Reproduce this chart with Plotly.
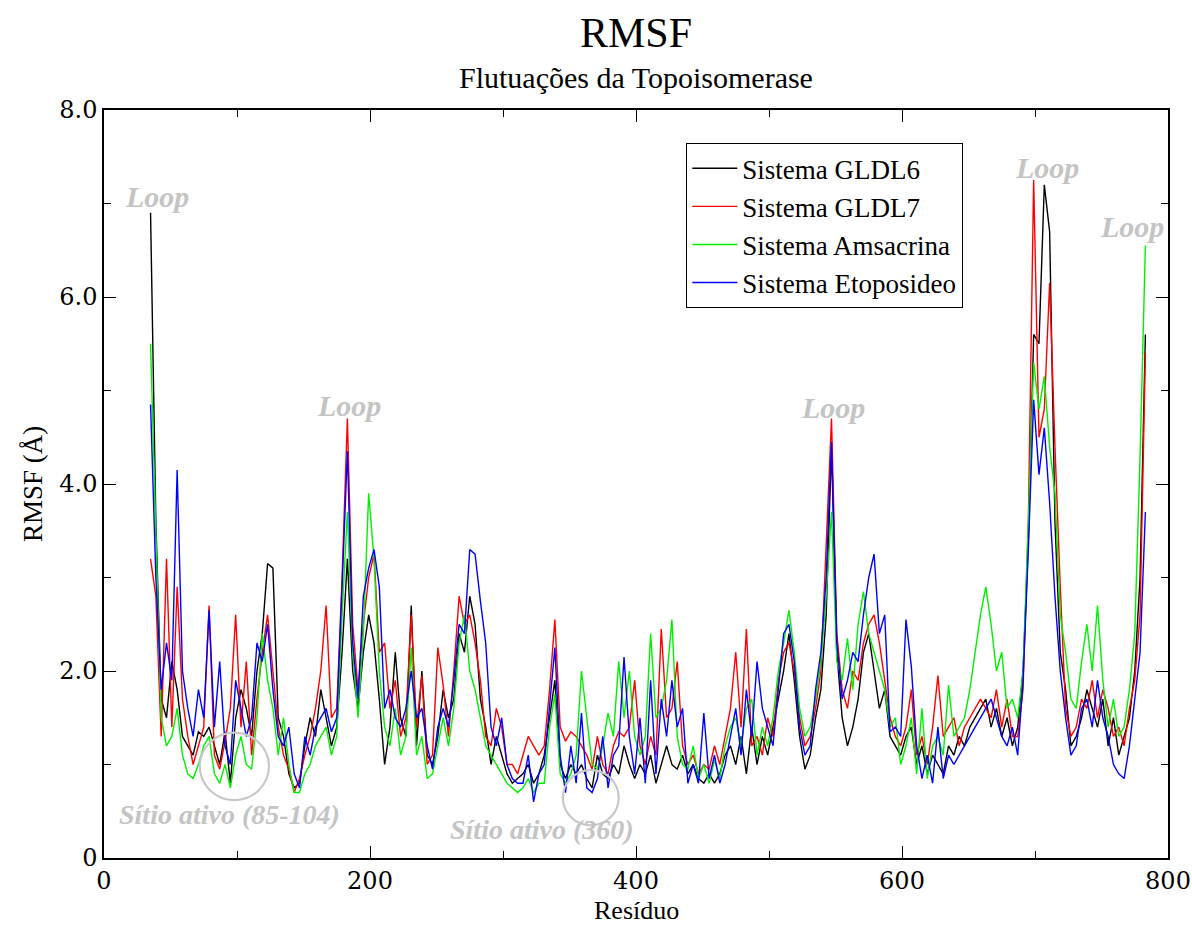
import plotly.graph_objects as go

# Residue numbering of the sampled profile
RES_START = 35
RES_STEP = 4

# RMSF (Å) per sampled residue, one list per system
gldl6 = [
    6.9, 3.6, 1.7, 1.5, 2.1, 1.8, 1.3, 1.2, 1.1, 1.35,
    1.3, 1.4, 1.2, 1.0, 1.35, 0.8, 1.5, 1.8, 1.6, 1.3,
    2.0, 2.4, 3.15, 3.1, 1.5, 1.3, 0.9, 0.75, 0.8, 1.2,
    1.5, 1.3, 1.8, 1.5, 1.2, 1.4, 2.2, 3.2, 2.0, 1.6,
    2.2, 2.6, 2.3, 1.7, 1.0, 1.4, 2.2, 1.5, 1.3, 2.7,
    1.2, 2.0, 1.1, 1.0, 1.3, 1.8, 1.5, 1.7, 2.4, 2.2,
    2.8, 2.5, 1.7, 1.4, 1.0, 1.3, 1.1, 0.9, 0.8, 0.85,
    0.9, 1.0, 0.8, 0.9, 1.1, 1.5, 1.9, 1.0, 0.85, 1.0,
    0.9, 1.0, 0.85, 0.75, 1.1, 0.9, 0.85, 1.0, 0.9, 1.2,
    1.0, 0.85, 1.0, 0.9, 1.1, 0.8, 1.0, 1.2, 1.0, 0.95,
    1.1, 0.9, 1.0, 0.85, 0.8, 0.9, 0.8, 0.9, 1.1, 1.2,
    1.0, 1.3, 0.9, 1.4, 1.0, 1.3, 1.1, 1.4, 1.7, 2.0,
    2.4, 1.9, 1.3, 0.95, 1.1, 1.5, 1.8, 2.6, 4.4, 2.2,
    1.5, 1.2, 1.4, 1.7, 2.2, 2.4, 2.0, 1.6, 1.8, 1.3,
    1.2, 1.1, 1.3, 1.4, 1.0, 1.2, 0.9, 1.1, 1.0, 0.9,
    1.2, 1.1, 1.3, 1.2, 1.4, 1.5, 1.6, 1.7, 1.4, 1.6,
    1.3, 1.5, 1.2, 1.4, 2.0, 3.4, 5.6, 5.5, 7.2, 6.7,
    3.6, 2.2, 1.8, 1.2, 1.3, 1.5, 1.8, 1.6, 1.4, 1.7,
    1.2, 1.5, 1.1, 1.3, 1.5, 2.0, 3.0, 5.6,
]
gldl7 = [
    3.2, 2.8, 1.3, 3.2, 1.4, 2.9, 1.7, 1.3, 1.0, 1.2,
    1.4, 2.7, 1.1, 0.95, 1.25, 1.6, 2.6, 1.4, 2.1, 1.1,
    1.7, 2.2, 2.6, 2.0, 1.4, 1.1, 0.95, 0.7, 0.85, 1.1,
    1.3, 1.6, 2.0, 2.7, 1.5, 1.6, 3.0, 4.7, 2.5, 1.8,
    2.5, 3.0, 3.25, 2.2, 2.3, 1.6, 1.9, 1.3, 1.5, 2.6,
    1.4, 1.95, 1.0, 1.1, 2.25, 1.85, 1.3, 2.0, 2.8, 2.5,
    2.6, 2.3, 1.9, 1.3, 1.2, 1.6, 1.4, 1.0, 1.0, 0.9,
    1.1, 1.3, 1.2, 1.1, 1.2, 1.8, 2.55, 1.4, 1.25, 1.35,
    1.3, 1.2, 1.1, 0.95, 1.3, 1.0, 0.9, 1.2, 1.35, 1.3,
    1.4, 1.9, 1.2, 1.0, 1.3, 1.1, 2.45, 1.5, 1.6, 2.1,
    1.2, 1.0, 1.1, 0.9, 1.0, 0.95, 1.2, 1.0, 1.3, 1.6,
    2.2, 1.4, 2.45, 1.2, 1.3, 1.1, 1.5, 1.3, 1.9, 2.2,
    2.3, 2.0, 1.5, 1.2, 1.3, 1.6, 2.0, 3.3, 4.7, 2.4,
    1.8, 1.6, 2.0, 1.9, 2.3, 2.5, 2.6, 2.3, 1.9, 1.5,
    1.3, 1.2, 1.4, 1.8, 1.1, 1.3, 1.0, 1.4, 1.95, 1.3,
    1.4, 1.5, 1.2, 1.4, 1.5, 1.6, 1.7, 1.6, 1.5, 1.8,
    1.4, 1.7, 1.3, 1.3, 1.8, 3.6, 7.25, 4.5, 4.8, 6.15,
    4.4, 2.9, 1.6, 1.3, 1.4, 1.7, 1.6, 1.9, 1.5, 1.8,
    1.6, 1.3, 1.4, 1.2, 1.6, 1.9, 2.6, 5.4,
]
amsacrina = [
    5.5, 3.4, 1.5, 1.2, 1.3, 1.6, 1.1, 0.9, 0.85, 1.0,
    1.2, 1.3, 0.9, 0.8, 1.0, 0.75, 1.1, 1.3, 1.0, 0.95,
    1.5, 2.4, 1.9, 1.6, 1.1, 1.5, 1.0, 0.7, 0.7, 0.9,
    1.0, 1.2, 1.3, 1.4, 1.1, 1.3, 2.6, 3.7, 2.2, 1.5,
    2.4, 3.9, 3.2, 2.0, 1.4, 1.2, 1.6, 1.1, 1.3, 2.25,
    1.1, 1.3, 0.85, 0.9, 1.2, 1.5, 1.2, 1.6, 2.3, 2.6,
    2.0, 1.8, 1.5, 1.2, 1.1, 1.0, 0.9, 0.8, 0.75, 0.7,
    0.75, 0.85, 0.7, 0.8, 0.8, 1.4, 1.75, 0.9, 0.8, 0.9,
    1.1, 2.0, 1.5, 1.0, 0.95, 1.2, 1.55, 1.3, 2.1, 1.5,
    2.0, 1.3, 1.1, 1.3, 2.4, 1.5, 1.6, 1.9, 2.55, 1.3,
    1.0, 0.95, 1.2, 0.85, 1.0, 0.8, 1.05, 0.85, 1.2, 1.4,
    1.5, 1.2, 1.6, 1.7, 1.1, 1.4, 1.2, 1.5, 2.0, 2.3,
    2.65, 2.2, 1.6, 1.3, 1.4, 1.7, 2.1, 2.8, 3.7, 2.1,
    1.9, 2.35, 1.8, 2.5, 2.85, 2.4, 2.2, 2.0, 1.8, 1.4,
    1.5, 1.0, 1.2, 1.5, 0.9, 1.6, 0.85, 1.2, 1.3, 1.1,
    1.85, 1.3, 1.4, 1.5, 1.8, 2.2, 2.6, 2.9, 2.5, 2.0,
    2.2, 1.6, 1.7, 1.5, 2.0, 3.6, 5.3, 4.8, 5.15, 4.4,
    3.9, 2.6, 2.2, 1.7, 1.6, 2.1, 2.5, 2.0, 2.7, 1.9,
    1.4, 1.7, 1.3, 1.4, 1.8, 2.4, 4.3, 6.55,
]
etoposideo = [
    4.85, 3.0, 1.8, 2.3, 1.9, 4.15, 2.0, 1.6, 1.3, 1.8,
    1.5, 2.65, 1.4, 2.1, 1.2, 1.0, 1.9, 1.6, 1.3, 1.5,
    2.3, 2.1, 2.5, 1.8, 1.3, 1.2, 1.4, 0.9, 0.75, 1.3,
    1.1, 1.4, 1.5, 1.6, 1.35, 1.5, 2.9, 4.35, 2.3, 1.7,
    2.8, 3.1, 3.3, 2.9, 1.6, 1.8, 1.5, 1.4, 1.6, 2.0,
    1.5, 1.6, 1.2, 0.95, 1.4, 1.6, 1.4, 1.9, 2.5, 2.4,
    3.3, 3.25, 2.75, 2.3, 1.4, 1.2, 1.5, 1.0, 0.85, 0.8,
    0.8, 1.1, 0.6, 0.9, 1.0, 1.6, 2.25, 1.1, 0.7, 1.2,
    0.8, 1.55, 0.75, 0.7, 0.85, 1.3, 0.75, 1.1, 1.2, 2.15,
    1.3, 0.9, 1.5, 0.8, 1.9, 0.9, 1.7, 1.3, 1.9, 1.4,
    1.6, 0.8, 1.0, 0.8, 1.55, 0.85, 1.1, 0.8, 1.0, 1.3,
    1.6, 1.1, 1.8, 1.3, 2.1, 1.6, 1.4, 1.2, 1.8, 2.4,
    2.5, 2.1, 1.4, 1.1, 1.2, 1.8, 2.2, 3.0, 4.45, 2.3,
    1.7, 1.9, 2.2, 2.1, 2.6, 3.0, 3.25, 2.4, 2.6, 1.35,
    1.4, 1.3, 2.55, 2.05, 1.2, 0.85, 1.1, 0.8, 1.4, 0.85,
    1.1, 1.0, 1.1, 1.2, 1.3, 1.4, 1.5, 1.6, 1.7, 1.5,
    1.3, 1.2, 1.4, 1.1, 1.9, 3.3, 4.9, 4.1, 4.6, 3.8,
    2.8, 2.0, 1.5, 1.1, 1.2, 1.6, 1.7, 1.4, 1.9, 1.5,
    1.3, 1.0, 0.9, 0.85, 1.2, 1.7, 2.2, 3.7,
]

series = [
    ("Sistema GLDL6", gldl6, "#000000"),
    ("Sistema GLDL7", gldl7, "#ff0000"),
    ("Sistema Amsacrina", amsacrina, "#00f000"),
    ("Sistema Etoposideo", etoposideo, "#0000ff"),
]

# Highlighted regions: (residue, RMSF) for the loop tags
loop_labels = [(40, 7.07), (184, 4.84), (548, 4.82), (709, 7.39), (773, 6.75)]
site_labels = [("Sítio ativo (85-104)", 94, 0.46), ("Sítio ativo (360)", 329, 0.30)]
# Active-site rings: (residue min, residue max, RMSF min, RMSF max)
site_rings = [(72, 124, 0.62, 1.34), (345, 387, 0.35, 0.94)]

SERIF = "Liberation Serif, Times New Roman, serif"
TICKFONT = "DejaVu Serif, serif"
GREY = "#c4c4c4"

fig = go.Figure()
for name, vals, color in series:
    res = [RES_START + RES_STEP * i for i in range(len(vals))]
    fig.add_trace(go.Scatter(
        x=res, y=vals, mode="lines", name=name,
        line=dict(color=color, width=1.4),
    ))

for r, v in loop_labels:
    fig.add_annotation(x=r, y=v, text="<b><i>Loop</i></b>", showarrow=False,
                       font=dict(family=SERIF, size=30, color=GREY))
for txt, r, v in site_labels:
    fig.add_annotation(x=r, y=v, text="<b><i>" + txt + "</i></b>", showarrow=False,
                       font=dict(family=SERIF, size=28, color=GREY))
for x0, x1, y0, y1 in site_rings:
    fig.add_shape(type="circle", xref="x", yref="y", x0=x0, x1=x1, y0=y0, y1=y1,
                  line=dict(color="#c8c8c8", width=2.2))

# Title block
fig.add_annotation(x=0.5, y=1.0, xref="paper", yref="paper", yanchor="bottom",
                   yshift=53, text="RMSF", showarrow=False, borderpad=0,
                   font=dict(family=SERIF, size=42, color="black"))
fig.add_annotation(x=0.5, y=1.0, xref="paper", yref="paper", yanchor="bottom",
                   yshift=15, text="Flutuações da Topoisomerase", showarrow=False,
                   borderpad=0, font=dict(family=SERIF, size=30, color="black"))

# Axis titles
fig.add_annotation(x=0, y=0.5, xref="paper", yref="paper", xanchor="center",
                   xshift=-71, text="RMSF (Å)", textangle=-90, showarrow=False,
                   font=dict(family=SERIF, size=27, color="black"))
fig.add_annotation(x=0.5, y=0, xref="paper", yref="paper", yanchor="middle",
                   yshift=-52, text="Resíduo", showarrow=False,
                   font=dict(family=SERIF, size=26, color="black"))

axis_common = dict(
    showgrid=False, zeroline=False, showline=True, linecolor="black", linewidth=1.5,
    mirror="allticks", ticks="inside", ticklen=12, tickwidth=1.3, tickcolor="black",
    tickfont=dict(family=TICKFONT, size=24, color="black"), automargin=False,
)
fig.update_xaxes(
    range=[0, 800], tickvals=[0, 200, 400, 600, 800],
    ticktext=["0", "200", "400", "600", "800"],
    minor=dict(ticks="inside", ticklen=7, tickwidth=1.2, tickcolor="black",
               tickvals=[100, 300, 500, 700]),
    **axis_common,
)
fig.update_yaxes(
    range=[0, 8], tickvals=[0, 2, 4, 6, 8],
    ticktext=["0", "2.0", "4.0", "6.0", "8.0"],
    minor=dict(ticks="inside", ticklen=7, tickwidth=1.2, tickcolor="black",
               tickvals=[1, 3, 5, 7]),
    **axis_common,
)

fig.update_layout(
    width=1192, height=925,
    margin=dict(l=104, r=24, t=110, b=67),
    paper_bgcolor="white", plot_bgcolor="white",
    showlegend=True,
    legend=dict(
        x=0.547, y=0.956, xanchor="left", yanchor="top",
        bordercolor="black", borderwidth=1.3, bgcolor="white",
        font=dict(family=SERIF, size=27, color="black"),
        tracegroupgap=0, itemwidth=45,
    ),
)

fig.write_html("out.html")
